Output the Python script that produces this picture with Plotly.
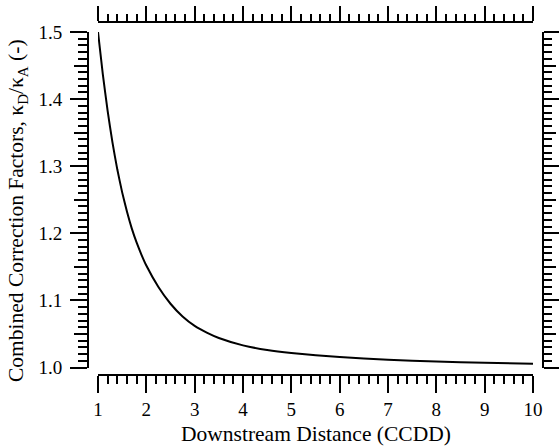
import plotly.graph_objects as go

# Data
distance = [1.0, 1.1, 1.2, 1.3, 1.4, 1.5, 1.6, 1.7, 1.8, 1.9, 2.0, 2.25, 2.5,
            2.75, 3.0, 3.25, 3.5, 4.0, 4.5, 5.0, 6.0, 7.0, 8.0, 9.0, 10.0]
correction = [1.500, 1.437, 1.382, 1.335, 1.295, 1.261, 1.232, 1.207, 1.186,
              1.168, 1.152, 1.120, 1.095, 1.076, 1.062, 1.052, 1.044, 1.033,
              1.026, 1.0215, 1.0155, 1.0115, 1.009, 1.007, 1.0055]

x_range = [1, 10]
y_range = [1.0, 1.5]
x_title = "Downstream Distance (CCDD)"
y_title = "Combined Correction Factors, κ<sub>D</sub>/κ<sub>A</sub> (-)"

W, H = 559, 446
L, R, T, B = 88, 16, 22, 71
PW = W - L - R
PH = H - T - B
xdom = [(98 - 88) / PW, (533 - 88) / PW]
ydom = [(375 - 367.5) / PH, (375 - 32) / PH]

FONT = "Liberation Serif"

fig = go.Figure()
fig.add_trace(go.Scatter(x=distance, y=correction, mode="lines",
                         line=dict(color="black", width=2, shape="spline", smoothing=0.5),
                         xaxis="x", yaxis="y", showlegend=False))
# dummy invisible traces so overlay axes are drawn
for xa, ya in [("x2", "y2"), ("x", "y3"), ("x", "y4")]:
    fig.add_trace(go.Scatter(x=[x_range[0]], y=[y_range[0]], mode="markers",
                             marker=dict(opacity=0), xaxis=xa, yaxis=ya,
                             showlegend=False, hoverinfo="skip"))

common = dict(showgrid=False, zeroline=False, showline=True, linecolor="black",
              linewidth=2, ticks="outside", tickcolor="black", tickwidth=1.5,
              autorange=False, automargin=False)

fig.update_layout(
    width=W, height=H,
    margin=dict(l=L, r=R, t=T, b=B, autoexpand=False),
    paper_bgcolor="white", plot_bgcolor="white",
    font=dict(family=FONT, size=19, color="black"),
    xaxis=dict(domain=xdom, range=x_range, anchor="free", position=0,
               dtick=1, tick0=1, ticklen=17,
               minor=dict(dtick=0.2, tick0=1, ticklen=8, ticks="outside",
                          tickcolor="black", tickwidth=1.5, showgrid=False),
               tickfont=dict(family=FONT, size=19), **common),
    xaxis2=dict(domain=xdom, range=x_range, anchor="free", position=1,
                overlaying="x", side="top", dtick=1, tick0=1, ticklen=15,
                minor=dict(dtick=0.2, tick0=1, ticklen=7, ticks="outside",
                           tickcolor="black", tickwidth=1.5, showgrid=False),
                showticklabels=False, **common),
    yaxis=dict(domain=ydom, range=y_range, anchor="free", position=0,
               dtick=0.1, tick0=1, ticklen=17, tickformat=".1f",
               ticklabelstandoff=4,
               minor=dict(dtick=0.01, tick0=1, ticklen=9, ticks="outside",
                          tickcolor="black", tickwidth=1.5, showgrid=False),
               tickfont=dict(family=FONT, size=19), **common),
    yaxis3=dict(domain=ydom, range=y_range, anchor="free", position=0,
                overlaying="y", dtick=0.05, tick0=1, ticklen=13,
                showticklabels=False, **common),
    yaxis2=dict(domain=ydom, range=y_range, anchor="free", position=1,
                overlaying="y", side="right", dtick=0.1, tick0=1, ticklen=15,
                minor=dict(dtick=0.01, tick0=1, ticklen=8, ticks="outside",
                           tickcolor="black", tickwidth=1.5, showgrid=False),
                showticklabels=False, **common),
    yaxis4=dict(domain=ydom, range=y_range, anchor="free", position=1,
                overlaying="y", side="right", dtick=0.05, tick0=1, ticklen=12,
                showticklabels=False, **common),
    annotations=[
        dict(text=x_title, xref="paper", yref="paper",
             x=(316 - L) / PW, y=(H - B - 434) / PH, showarrow=False,
             xanchor="center", yanchor="middle",
             font=dict(family=FONT, size=21.5, color="black")),
        dict(text=y_title, xref="paper", yref="paper", textangle=-90,
             x=(17 - L) / PW, y=(H - B - 211) / PH, showarrow=False,
             xanchor="center", yanchor="middle",
             font=dict(family=FONT, size=21.5, color="black")),
    ],
)

fig.write_html("out.html")
